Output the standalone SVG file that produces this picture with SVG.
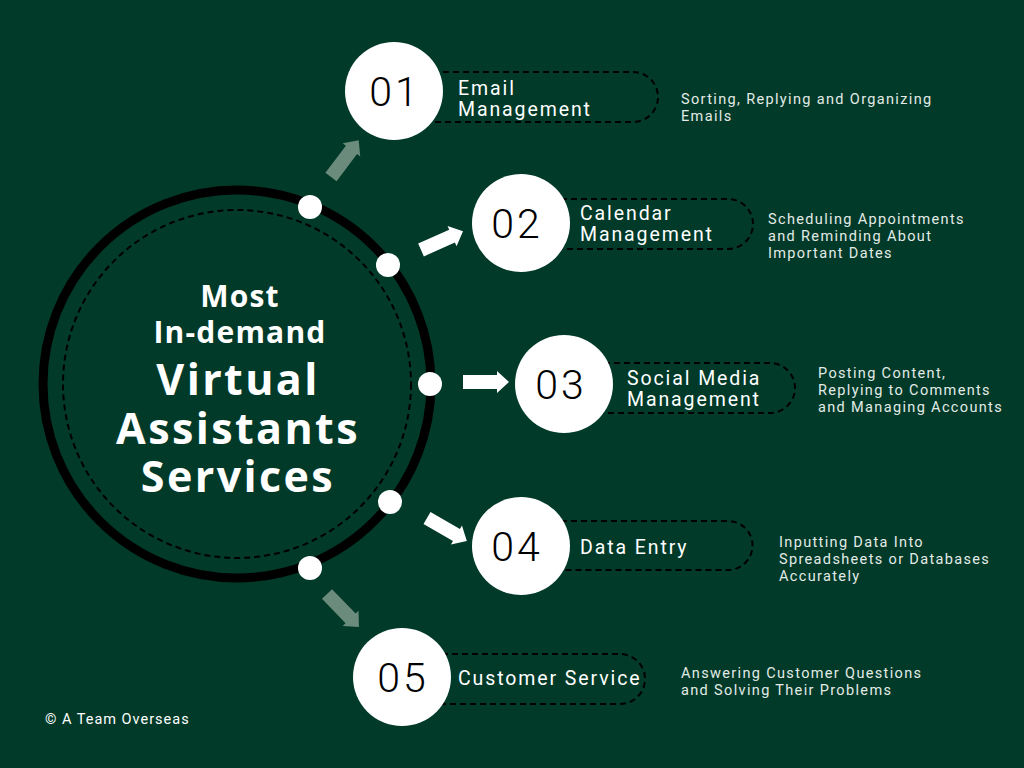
<svg xmlns="http://www.w3.org/2000/svg" width="1024" height="768" viewBox="0 0 1024 768">
<defs>
<style>
.bg{fill:#013a29}
.num-c{fill:#ffffff}
.num{font-family:Roboto,"Liberation Sans",sans-serif;font-weight:300;font-size:41px;fill:#000000;text-anchor:middle;letter-spacing:3px}
.pill{fill:none;stroke:#000000;stroke-width:2;stroke-dasharray:6 4}
.lbl{font-family:Roboto,"Liberation Sans",sans-serif;font-size:19.5px;fill:#ffffff;letter-spacing:1.9px}
.desc{font-family:Roboto,"Liberation Sans",sans-serif;font-size:14.5px;fill:#e3ebe6;letter-spacing:1.35px}
.title{font-family:"Open Sans","Liberation Sans",sans-serif;font-weight:700;fill:#ffffff;text-anchor:middle}
.dot{fill:#ffffff}
.arr-w{fill:#ffffff}
.arr-g{fill:#6b8b7c}
</style>
<path id="arrow" d="M0,-7 L34,-7 L34,-11 L46,0 L34,11 L34,7 L0,7 Z"/>
</defs>
<rect class="bg" x="0" y="0" width="1024" height="768"/>

<g id="hub">
<circle cx="237" cy="384" r="194" fill="none" stroke="#000000" stroke-width="9"/>
<circle cx="237" cy="384" r="174" fill="none" stroke="#000000" stroke-width="2" stroke-dasharray="6 4"/>
<text class="title" x="240" y="307" font-size="30" letter-spacing="1.2">Most</text>
<text class="title" x="240" y="343" font-size="30" letter-spacing="1.2">In-demand</text>
<text class="title" x="238" y="395" font-size="43" letter-spacing="2.4">Virtual</text>
<text class="title" x="238" y="444" font-size="43" letter-spacing="2.4">Assistants</text>
<text class="title" x="238" y="492" font-size="43" letter-spacing="2.4">Services</text>
<circle class="dot" cx="310" cy="207" r="12"/>
<circle class="dot" cx="388" cy="265" r="12"/>
<circle class="dot" cx="430" cy="384" r="12"/>
<circle class="dot" cx="390" cy="502" r="12"/>
<circle class="dot" cx="310" cy="568" r="12"/>
</g>

<g id="connectors">
<use href="#arrow" class="arr-g" transform="translate(331,177) rotate(-53)"/>
<use href="#arrow" class="arr-w" transform="translate(421,250) rotate(-24)"/>
<use href="#arrow" class="arr-w" transform="translate(463,382)"/>
<use href="#arrow" class="arr-w" transform="translate(427,518) rotate(30)"/>
<use href="#arrow" class="arr-g" transform="translate(327,594) rotate(46)"/>
</g>

<g id="node-01">
<path class="pill" d="M393,72 H633 A25,25 0 0 1 633,122 H393"/>
<circle class="num-c" cx="394" cy="91" r="49"/>
<text class="num" x="395" y="106">01</text>
<text class="lbl" x="458" y="95">Email</text>
<text class="lbl" x="458" y="116">Management</text>
<text class="desc" x="681" y="104">Sorting, Replying and Organizing</text>
<text class="desc" x="681" y="121">Emails</text>
</g>

<g id="node-02">
<path class="pill" d="M521,199 H728 A25,25 0 0 1 728,249 H521"/>
<circle class="num-c" cx="521" cy="223" r="49"/>
<text class="num" x="517" y="238">02</text>
<text class="lbl" x="580" y="220">Calendar</text>
<text class="lbl" x="580" y="241">Management</text>
<text class="desc" x="768" y="224">Scheduling Appointments</text>
<text class="desc" x="768" y="241">and Reminding About</text>
<text class="desc" x="768" y="258">Important Dates</text>
</g>

<g id="node-03">
<path class="pill" d="M564,363 H770 A25,25 0 0 1 770,413 H564"/>
<circle class="num-c" cx="564" cy="384" r="49"/>
<text class="num" x="561" y="399">03</text>
<text class="lbl" x="627" y="385">Social Media</text>
<text class="lbl" x="627" y="406">Management</text>
<text class="desc" x="818" y="378">Posting Content,</text>
<text class="desc" x="818" y="395">Replying to Comments</text>
<text class="desc" x="818" y="412">and Managing Accounts</text>
</g>

<g id="node-04">
<path class="pill" d="M521,521 H728 A24.5,24.5 0 0 1 728,570 H521"/>
<circle class="num-c" cx="521" cy="546" r="49"/>
<text class="num" x="517" y="561">04</text>
<text class="lbl" x="580" y="554">Data Entry</text>
<text class="desc" x="779" y="547">Inputting Data Into</text>
<text class="desc" x="779" y="564">Spreadsheets or Databases</text>
<text class="desc" x="779" y="581">Accurately</text>
</g>

<g id="node-05">
<path class="pill" d="M402,654 H620 A25,25 0 0 1 620,704 H402"/>
<circle class="num-c" cx="402" cy="677" r="49"/>
<text class="num" x="403" y="692">05</text>
<text class="lbl" x="458" y="685">Customer Service</text>
<text class="desc" x="681" y="678">Answering Customer Questions</text>
<text class="desc" x="681" y="695">and Solving Their Problems</text>
</g>

<text x="45" y="724" font-family="Roboto,'Liberation Sans',sans-serif" font-size="14.5" fill="#ffffff" letter-spacing="1">© A Team Overseas</text>
</svg>
